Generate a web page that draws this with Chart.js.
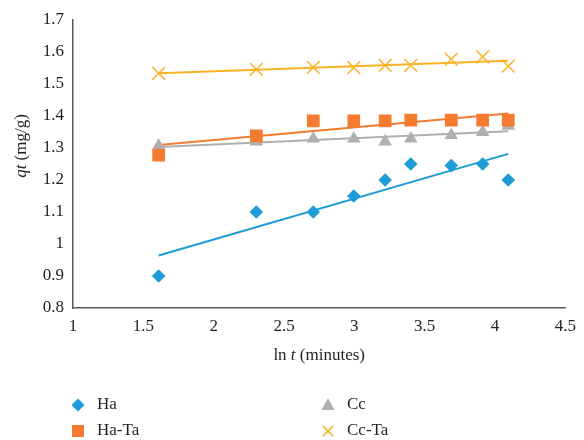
<!DOCTYPE html>
<html>
<head>
<meta charset="utf-8">
<script src="https://cdn.jsdelivr.net/npm/chart.js@4.4.1/dist/chart.umd.min.js"></script>
<style>
  html, body { margin: 0; padding: 0; background: #fff; }
  #wrap { width: 584px; height: 440px; }
</style>
</head>
<body>
<div id="wrap"><canvas id="myChart"></canvas></div>
<script>
// ln t (minutes) for 5, 10, 15, 20, 25, 30, 40, 50, 60 min
const lnT = [1.609, 2.303, 2.708, 2.996, 3.219, 3.401, 3.689, 3.912, 4.094];
const ha = [0.9, 1.1, 1.1, 1.15, 1.2, 1.25, 1.245, 1.25, 1.2];
const haTa = [1.278, 1.338, 1.385, 1.385, 1.385, 1.387, 1.387, 1.387, 1.387];
const cc = [1.307, 1.32, 1.329, 1.329, 1.32, 1.329, 1.34, 1.35, 1.369];
const ccTa = [1.533, 1.546, 1.552, 1.551, 1.558, 1.558, 1.577, 1.585, 1.556];
const seriesNames = ["Ha", "Ha-Ta", "Cc", "Cc-Ta"];
const xTicks = [1, 1.5, 2, 2.5, 3, 3.5, 4, 4.5];
const yTicks = [0.8, 0.9, 1, 1.1, 1.2, 1.3, 1.4, 1.5, 1.6, 1.7];

const BLUE = "#1f9bd7", ORANGE = "#f47b2f", GREY = "#b0b0b0", YELLOW = "#f9b223";
const FONT = "'Liberation Serif', 'DejaVu Serif', serif";

const pts = (ys) => lnT.map((x, i) => ({ x, y: ys[i] }));

// least squares trendline, endpoints at first and last x
function trend(ys) {
  const n = lnT.length;
  const mx = lnT.reduce((a, b) => a + b, 0) / n;
  const my = ys.reduce((a, b) => a + b, 0) / n;
  let sxy = 0, sxx = 0;
  lnT.forEach((x, i) => { sxy += (x - mx) * (ys[i] - my); sxx += (x - mx) ** 2; });
  const k = sxy / sxx;
  return [lnT[0], lnT[n - 1]].map((x) => ({ x, y: my + k * (x - mx) }));
}

const markerSets = [
  { label: seriesNames[0], data: pts(ha), color: BLUE, style: "rectRot", r: 6.8 },
  { label: seriesNames[1], data: pts(haTa), color: ORANGE, style: "rect", r: 9 },
  { label: seriesNames[2], data: pts(cc), color: GREY, style: "triangle", r: 7.8 },
  { label: seriesNames[3], data: pts(ccTa), color: YELLOW, style: "crossRot", r: 9 },
];

const datasets = [];
[ha, haTa, cc, ccTa].forEach((ys, i) => {
  datasets.push({
    label: seriesNames[i] + " trend",
    data: trend(ys),
    showLine: true,
    borderColor: markerSets[i].color,
    borderWidth: 2,
    pointRadius: 0,
    order: 2,
  });
});
markerSets.forEach((m) => {
  datasets.push({
    label: m.label,
    data: m.data,
    pointStyle: m.style,
    pointRadius: m.r,
    pointHoverRadius: m.r,
    backgroundColor: m.color,
    borderColor: m.color,
    borderWidth: m.style === "crossRot" ? 1.5 : 0,
    order: 1,
  });
});

function drawMarker(ctx, m, x, y) {
  ctx.save();
  ctx.fillStyle = m.color;
  ctx.strokeStyle = m.color;
  ctx.lineWidth = 1.6;
  ctx.beginPath();
  if (m.style === "rectRot") {
    ctx.moveTo(x, y - 6.5); ctx.lineTo(x + 6.5, y); ctx.lineTo(x, y + 6.5); ctx.lineTo(x - 6.5, y);
    ctx.closePath(); ctx.fill();
  } else if (m.style === "rect") {
    ctx.rect(x - 6, y - 6, 12, 12); ctx.fill();
  } else if (m.style === "triangle") {
    ctx.moveTo(x, y - 7); ctx.lineTo(x + 6.5, y + 5); ctx.lineTo(x - 6.5, y + 5);
    ctx.closePath(); ctx.fill();
  } else {
    ctx.moveTo(x - 5, y - 5); ctx.lineTo(x + 5, y + 5);
    ctx.moveTo(x + 5, y - 5); ctx.lineTo(x - 5, y + 5); ctx.stroke();
  }
  ctx.restore();
}

// draws a string made of [text, italic] pieces centred on (cx, cy)
function drawRich(ctx, parts, cx, cy) {
  const fonts = parts.map((p) => (p[1] ? "italic " : "") + "17px " + FONT);
  const widths = parts.map((p, i) => { ctx.font = fonts[i]; return ctx.measureText(p[0]).width; });
  let x = cx - widths.reduce((a, b) => a + b, 0) / 2;
  ctx.textBaseline = "middle";
  ctx.textAlign = "left";
  parts.forEach((p, i) => { ctx.font = fonts[i]; ctx.fillText(p[0], x, cy); x += widths[i]; });
}

const extras = {
  id: "extras",
  afterDraw(chart) {
    const ctx = chart.ctx;
    const area = chart.chartArea;
    ctx.save();
    ctx.fillStyle = "#231f20";
    drawRich(ctx, [["ln ", false], ["t", true], [" (minutes)", false]], (area.left + area.right) / 2, 356);
    ctx.save();
    ctx.translate(22, 146);
    ctx.rotate(-Math.PI / 2);
    drawRich(ctx, [["qt", true], [" (mg/g)", false]], 0, 0);
    ctx.restore();

    // legend in two columns: Ha / Ha-Ta on the left, Cc / Cc-Ta on the right
    const cols = [78, 328], rows = [405, 431];
    markerSets.forEach((m, i) => {
      const cx = cols[i < 2 ? 0 : 1];
      const cy = rows[i % 2];
      drawMarker(ctx, m, cx, cy);
      ctx.font = "17px " + FONT;
      ctx.fillStyle = "#231f20";
      ctx.textAlign = "left";
      ctx.textBaseline = "middle";
      ctx.fillText(m.label, cx + 19, cy);
    });
    ctx.restore();
  },
};

new Chart("myChart", {
  type: "scatter",
  data: { datasets },
  options: {
    responsive: true,
    maintainAspectRatio: false,
    animation: false,
    layout: { padding: { top: 20, right: 16, bottom: 73, left: 0 } },
    plugins: { legend: { display: false }, tooltip: { enabled: false } },
    scales: {
      x: {
        type: "linear",
        min: 1,
        max: 4.5,
        afterBuildTicks: (s) => { s.ticks = xTicks.map((v) => ({ value: v })); },
        afterFit: (s) => { s.height = 59; },
        grid: { display: false, drawTicks: false },
        border: { display: true, color: "#595959", width: 1.5 },
        ticks: {
          color: "#231f20",
          padding: 8,
          font: { family: FONT, size: 17 },
          callback: (v) => String(+v.toFixed(2)),
        },
      },
      y: {
        type: "linear",
        min: 0.8,
        max: 1.7,
        afterBuildTicks: (s) => { s.ticks = yTicks.map((v) => ({ value: v })); },
        afterFit: (s) => { s.width = 73; },
        grid: { display: false, drawTicks: false },
        border: { display: true, color: "#595959", width: 1.5 },
        ticks: {
          color: "#231f20",
          padding: 9,
          font: { family: FONT, size: 17 },
          callback: (v) => String(+v.toFixed(2)),
        },
      },
    },
  },
  plugins: [extras],
});
</script>
</body>
</html>
